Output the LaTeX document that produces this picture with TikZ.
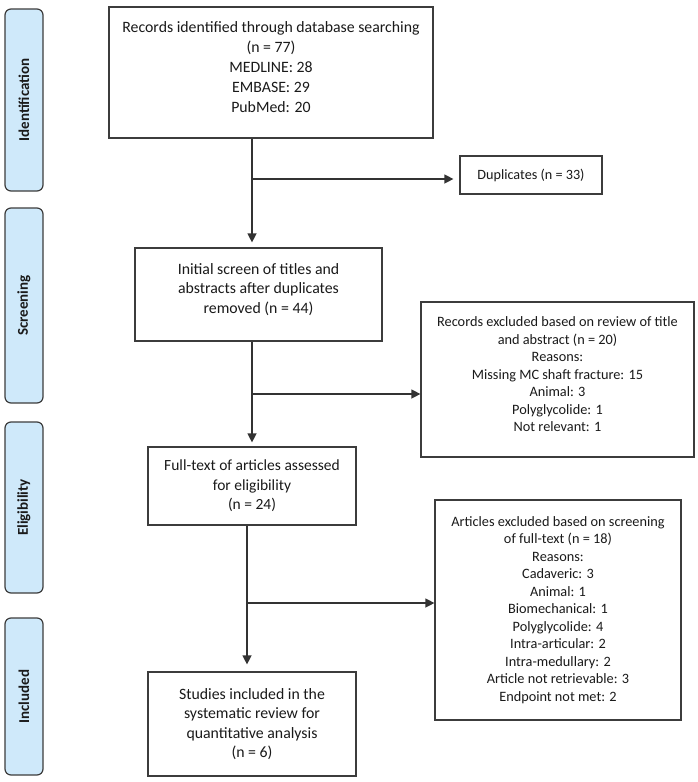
\documentclass[tikz,border=0pt]{standalone}
\usepackage{fontspec}
\setmainfont{Carlito}
\usetikzlibrary{arrows.meta}
\definecolor{linegray}{HTML}{333333}
\definecolor{boxgray}{HTML}{3C3C3C}
\definecolor{phasefill}{HTML}{CFE9FA}
\definecolor{txt}{HTML}{1A1A1A}
\begin{document}
\begin{tikzpicture}[x=1pt,y=-1pt,
  box/.style={draw=boxgray, line width=1.2pt, fill=white, align=center, inner sep=0pt, text=txt},
  phase/.style={draw=boxgray, line width=1.2pt, fill=phasefill, rounded corners=6pt, inner sep=0pt, text=txt, font=\fontsize{15}{17}\selectfont\bfseries},
  conn/.style={draw=linegray, line width=1.3pt},
  arr/.style={conn, -{Triangle[length=9pt,width=9pt]}}]
\useasboundingbox (0,0) rectangle (698,782);
% phase bars
\node[phase, rotate=90, minimum width=182pt, minimum height=38pt] (pid) at (24,100) {Identification};
\node[phase, rotate=90, minimum width=195pt, minimum height=38pt] (psc) at (24,305.5) {Screening};
\node[phase, rotate=90, minimum width=171pt, minimum height=38pt] (pel) at (24,507.5) {Eligibility};
\node[phase, rotate=90, minimum width=157pt, minimum height=38pt] (pin) at (24,696.5) {Included};
% main boxes
\node[box, minimum width=324pt, minimum height=131pt, font=\fontsize{15.8}{20}\selectfont] (b1) at (271,72.5)
  {Records identified through database searching\\(n = 77)\\MEDLINE: 28\\EMBASE: 29\\PubMed: 20\\[-10pt]};
\node[box, minimum width=142pt, minimum height=38pt, font=\fontsize{14.2}{16}\selectfont] (dup) at (531,175)
  {Duplicates (n = 33)};
\node[box, minimum width=247pt, minimum height=93pt, font=\fontsize{15.8}{19.5}\selectfont] (b2) at (258.5,294.5)
  {Initial screen of titles and\\abstracts after duplicates\\removed (n = 44)\\[-7pt]};
\node[box, minimum width=273pt, minimum height=155pt, font=\fontsize{14.3}{17.5}\selectfont] (ex1) at (557.5,379.5)
  {Records excluded based on review of title\\and abstract (n = 20)\\Reasons:\\Missing MC shaft fracture: 15\\Animal: 3\\Polyglycolide: 1\\Not relevant: 1\\[-7pt]};
\node[box, minimum width=208pt, minimum height=78pt, font=\fontsize{15.5}{19.5}\selectfont] (b3) at (252,486)
  {Full-text of articles assessed\\for eligibility\\(n = 24)};
\node[box, minimum width=246pt, minimum height=220pt, font=\fontsize{14.3}{17.5}\selectfont] (ex2) at (558,610)
  {Articles excluded based on screening\\of full-text (n = 18)\\Reasons:\\Cadaveric: 3\\Animal: 1\\Biomechanical: 1\\Polyglycolide: 4\\Intra-articular: 2\\Intra-medullary: 2\\Article not retrievable: 3\\Endpoint not met: 2};
\node[box, minimum width=208pt, minimum height=104pt, font=\fontsize{15.8}{19.5}\selectfont] (b4) at (252,724)
  {Studies included in the\\systematic review for\\quantitative analysis\\(n = 6)};
% branch points
\coordinate (j1) at (252,179);
\coordinate (j2) at (252,394);
\coordinate (j3) at (247,603);
% connectors
\draw[arr, shorten >=5pt] (b1.south -| j1) -- (b2.north -| j1);
\draw[arr, shorten >=6pt] (j1) -- (j1 -| dup.west);
\draw[arr, shorten >=4pt] (b2.south -| j2) -- (b3.north -| j2);
\draw[arr] (j2) -- (j2 -| ex1.west);
\draw[arr, shorten >=7pt] (b3.south -| j3) -- (b4.north -| j3);
\draw[arr] (j3) -- (j3 -| ex2.west);
\end{tikzpicture}
\end{document}
